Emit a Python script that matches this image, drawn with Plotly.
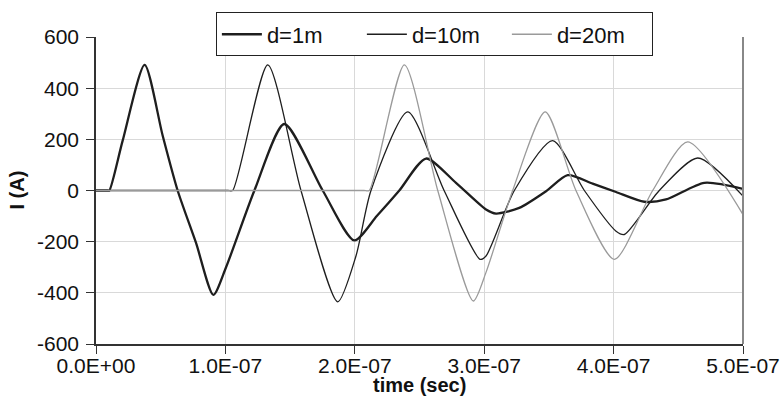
import plotly.graph_objects as go

# time in seconds, current in A
t_1m = [0.0, 0.05e-7, 0.09e-7, 0.103e-7, 0.206e-7, 0.376e-7, 0.515e-7, 0.631e-7, 0.773e-7, 0.907e-7, 1.005e-7,
        1.224e-7, 1.455e-7, 1.752e-7, 1.996e-7, 2.17e-7, 2.344e-7, 2.550e-7, 2.782e-7,
        3.014e-7, 3.091e-7, 3.271e-7, 3.478e-7, 3.645e-7, 3.838e-7, 4.019e-7, 4.237e-7,
        4.405e-7, 4.701e-7, 5.0e-7]
i_1m = [0, 0, 0, 0, 195, 491, 215, 0, -205, -408, -300,
        0, 260, 0, -195, -100, 0, 125, 30,
        -74, -90, -68, -3, 60, 27, -6, -44,
        -35, 30, 6]

t_10m = [0.0, 0.5e-7, 0.9e-7, 1.02e-7, 1.056e-7, 1.327e-7, 1.584e-7, 1.868e-7, 2.009e-7, 2.125e-7, 2.409e-7, 2.69e-7,
         2.968e-7, 3.014e-7, 3.233e-7, 3.529e-7, 3.774e-7, 4.019e-7, 4.083e-7, 4.353e-7,
         4.650e-7, 5.0e-7]
i_10m = [0, 0, 0, 0, 0, 491, 0, -435, -256, 0, 307, 0,
         -269, -256, 0, 195, 0, -159, -172, 0,
         127, -22]

t_20m = [0.0, 0.5e-7, 1.0e-7, 1.5e-7, 1.9e-7, 2.07e-7, 2.112e-7, 2.383e-7, 2.641e-7, 2.916e-7, 3.014e-7,
         3.220e-7, 3.472e-7, 3.709e-7, 4.006e-7, 4.302e-7, 4.573e-7, 5.0e-7]
i_20m = [0, 0, 0, 0, 0, 0, 0, 491, 0, -432, -320,
         0, 307, 0, -269, 0, 190, -94]

x_tick_vals = [0.0, 1e-7, 2e-7, 3e-7, 4e-7, 5e-7]
x_tick_labels = ["0.0E+00", "1.0E-07", "2.0E-07", "3.0E-07", "4.0E-07", "5.0E-07"]
y_tick_vals = [-600, -400, -200, 0, 200, 400, 600]
y_tick_labels = ["-600", "-400", "-200", "0", "200", "400", "600"]
x_title = "time (sec)"
y_title = "I (A)"

FONT = "Liberation Sans, Arial, sans-serif"

fig = go.Figure()
fig.add_trace(go.Scatter(x=t_1m, y=i_1m, mode="lines", name="d=1m",
                         line=dict(color="#1e1e1e", width=2.3, shape="spline", smoothing=0.7)))
fig.add_trace(go.Scatter(x=t_10m, y=i_10m, mode="lines", name="d=10m",
                         line=dict(color="#1e1e1e", width=1.3, shape="spline", smoothing=0.7)))
fig.add_trace(go.Scatter(x=t_20m, y=i_20m, mode="lines", name="d=20m",
                         line=dict(color="#9a9a9a", width=1.3, shape="spline", smoothing=0.7)))

fig.update_layout(
    width=783, height=414,
    margin=dict(l=96, r=40, t=37, b=70),
    paper_bgcolor="white", plot_bgcolor="white",
    font=dict(family=FONT, size=21, color="#111"),
    legend=dict(orientation="h", x=0.523, y=1.08, xanchor="center", yanchor="top",
                bordercolor="#222", borderwidth=1, bgcolor="white",
                font=dict(size=22), itemwidth=40, tracegroupgap=0,
                entrywidth=90, entrywidthmode="pixels"),
    shapes=[dict(type="line", xref="paper", yref="paper", x0=1, x1=1, y0=0, y1=1,
                 line=dict(color="#888", width=2))],
    annotations=[
        dict(text="<b>" + x_title + "</b>", xref="paper", yref="paper", x=0.5, y=-0.134,
             xanchor="center", yanchor="middle", showarrow=False, font=dict(size=20)),
        dict(text="<b>" + y_title + "</b>", xref="paper", yref="paper", x=-0.1236, y=0.5,
             xanchor="center", yanchor="middle", showarrow=False, textangle=-90,
             font=dict(size=20)),
    ],
)
fig.update_xaxes(range=[0, 5e-7], tickvals=x_tick_vals, ticktext=x_tick_labels,
                 showgrid=True, gridcolor="#d9d9d9", gridwidth=1, zeroline=False,
                 showline=True, linecolor="#333", linewidth=1.5, automargin=False,
                 ticks="outside", ticklen=8, tickcolor="#333", tickfont=dict(size=21),
                 ticklabelstandoff=-6)
fig.update_yaxes(range=[-600, 600], tickvals=y_tick_vals, ticktext=y_tick_labels,
                 showgrid=True, gridcolor="#d9d9d9", gridwidth=1, zeroline=False,
                 showline=True, linecolor="#333", linewidth=1.5, automargin=False,
                 ticks="outside", ticklen=8, tickcolor="#333", ticklabelstandoff=3)

fig.write_html("out.html")
